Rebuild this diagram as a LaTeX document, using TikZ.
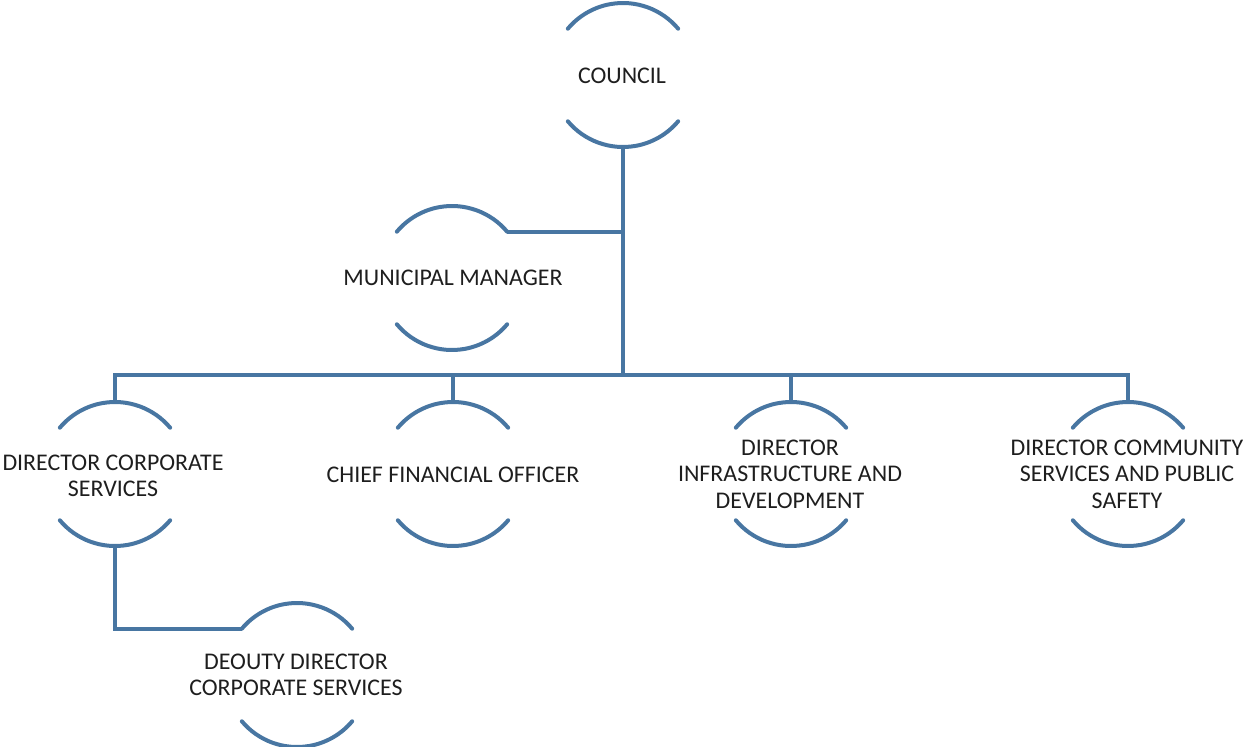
\documentclass[tikz,border=0pt]{standalone}
\usepackage{fontspec}
\setmainfont{Carlito}
\definecolor{orgblue}{RGB}{72,118,162}
\definecolor{orgtext}{RGB}{30,30,30}
% top and bottom arcs of an open ring around a centre coordinate
\newcommand\ringarcs[1]{%
  \draw[ring] ([shift={(40:72bp)}]#1) arc (40:140:72bp);
  \draw[ring] ([shift={(220:72bp)}]#1) arc (220:320:72bp);}
\begin{document}
\begin{tikzpicture}[x=1bp,y=-1bp,
  ring/.style={orgblue,line width=4bp,line cap=round},
  link/.style={orgblue,line width=4bp},
  txt/.style={text=orgtext,font=\fontsize{24}{26.5}\selectfont,inner sep=0pt,align=center}]
\useasboundingbox (0,0) rectangle (1243,747);

% ring centres
\coordinate (council-c) at (623,75);
\coordinate (mm-c) at (452,278);
\coordinate (dcs-c) at (115,474);
\coordinate (cfo-c) at (453,474);
\coordinate (infra-c) at (791,474);
\coordinate (comm-c) at (1128,474);
\coordinate (dep-c) at (297,675);
\coordinate (bus) at (623,375);

% rings
\ringarcs{council-c}
\ringarcs{mm-c}
\ringarcs{dcs-c}
\ringarcs{cfo-c}
\ringarcs{infra-c}
\ringarcs{comm-c}
\ringarcs{dep-c}

% titles
\node[txt] (council) at (622,76) {COUNCIL};
\node[txt] (mm) at (453,278) {MUNICIPAL MANAGER};
\node[txt] (dcs) at (113,476) {DIRECTOR CORPORATE\\SERVICES};
\node[txt] (cfo) at (453,475) {CHIEF FINANCIAL OFFICER};
\node[txt] (infra) at (790,474) {DIRECTOR\\INFRASTRUCTURE AND\\DEVELOPMENT};
\node[txt] (comm) at (1127,474) {DIRECTOR COMMUNITY\\SERVICES AND PUBLIC\\SAFETY};
\node[txt] (dep) at (296,675) {DEOUTY DIRECTOR\\CORPORATE SERVICES};

% reporting lines
\draw[link] ([yshift=-72bp]council-c) -- (bus);
\draw[link] ([yshift=-72bp]council-c) |- ([shift={(40:72bp)}]mm-c);
\foreach \d in {dcs-c,cfo-c,infra-c,comm-c}
  \draw[link] ([yshift=72bp]\d) |- (bus);
\draw[link] ([yshift=-72bp]dcs-c) |- ([shift={(140:72bp)}]dep-c);
\end{tikzpicture}
\end{document}
